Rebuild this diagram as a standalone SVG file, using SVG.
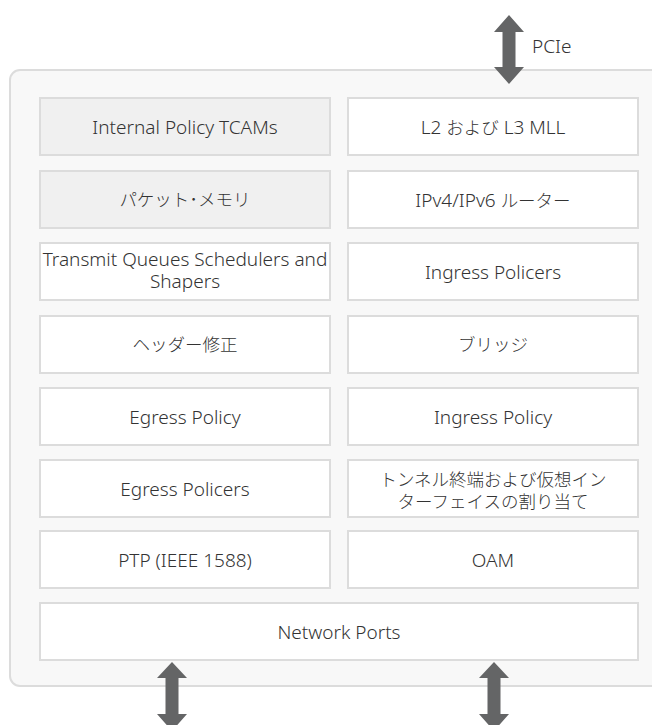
<svg xmlns="http://www.w3.org/2000/svg" width="652" height="725" viewBox="0 0 652 725">
<style>
.box{fill:#ffffff;stroke:#dcdcdc;stroke-width:2}
.shade{fill:#f0f0f0}
.t{font-family:"Noto Sans","Noto Sans CJK JP",sans-serif;font-size:19px;font-weight:300;fill:#333333;text-anchor:middle}
.j{font-size:17.5px}
.arr{fill:#646566}
</style>
<rect id="container" x="10" y="70" width="660" height="616" rx="10" fill="#f8f8f8" stroke="#dcdcdc" stroke-width="2"/>
<g id="connectors">
<path class="arr" d="M509,15 L524,32 L515.5,32 L515.5,67 L524,67 L509,84 L494,67 L502.5,67 L502.5,32 L494,32 Z"/>
<path class="arr" d="M172,662 L187,678 L178.5,678 L178.5,714 L187,714 L172,731 L157,714 L165.5,714 L165.5,678 L157,678 Z"/>
<path class="arr" d="M494,662 L509,678 L500.5,678 L500.5,714 L509,714 L494,731 L479,714 L487.5,714 L487.5,678 L479,678 Z"/>
<text class="t" x="532" y="53" style="text-anchor:start">PCIe</text>
</g>
<g id="n1"><rect class="box shade" x="40" y="98" width="290" height="57"/><text class="t" x="185" y="133.5">Internal Policy TCAMs</text></g>
<g id="n2"><rect class="box" x="348" y="98" width="290" height="57"/><text class="t" x="493" y="133.5">L2 <tspan class="j">および</tspan> L3 MLL</text></g>
<g id="n3"><rect class="box shade" x="40" y="171" width="290" height="57"/><text class="t j" x="185" y="206">パケット･メモリ</text></g>
<g id="n4"><rect class="box" x="348" y="171" width="290" height="57"/><text class="t" x="493" y="206.5">IPv4/IPv6 <tspan class="j">ルーター</tspan></text></g>
<g id="n5"><rect class="box" x="40" y="243" width="290" height="57"/><text class="t" x="185" y="266">Transmit Queues Schedulers and</text><text class="t" x="185" y="287.5">Shapers</text></g>
<g id="n6"><rect class="box" x="348" y="243" width="290" height="57"/><text class="t" x="493" y="278.5">Ingress Policers</text></g>
<g id="n7"><rect class="box" x="40" y="316" width="290" height="57"/><text class="t j" x="185" y="351">ヘッダー修正</text></g>
<g id="n8"><rect class="box" x="348" y="316" width="290" height="57"/><text class="t j" x="493" y="351">ブリッジ</text></g>
<g id="n9"><rect class="box" x="40" y="388" width="290" height="57"/><text class="t" x="185" y="423.5">Egress Policy</text></g>
<g id="n10"><rect class="box" x="348" y="388" width="290" height="57"/><text class="t" x="493" y="423.5">Ingress Policy</text></g>
<g id="n11"><rect class="box" x="40" y="460" width="290" height="57"/><text class="t" x="185" y="495.5">Egress Policers</text></g>
<g id="n12"><rect class="box" x="348" y="460" width="290" height="57"/><text class="t j" x="493" y="486">トンネル終端および仮想イン</text><text class="t j" x="493" y="508">ターフェイスの割り当て</text></g>
<g id="n13"><rect class="box" x="40" y="531" width="290" height="57"/><text class="t" x="185" y="566.5">PTP (IEEE 1588)</text></g>
<g id="n14"><rect class="box" x="348" y="531" width="290" height="57"/><text class="t" x="493" y="566.5">OAM</text></g>
<g id="n15"><rect class="box" x="40" y="603" width="598" height="57"/><text class="t" x="339" y="638.5">Network Ports</text></g>
</svg>
